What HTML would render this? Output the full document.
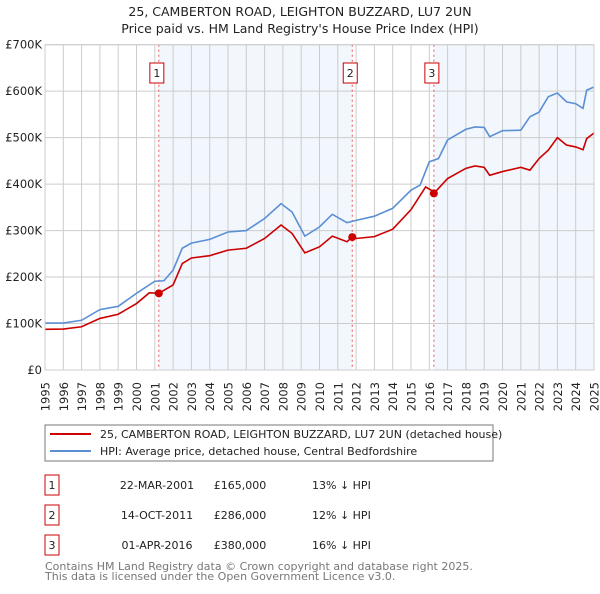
<!DOCTYPE html>
<html><head><meta charset="utf-8">
<style>
body{margin:0;background:#fff;font-family:"DejaVu Sans","Liberation Sans",sans-serif;}
svg text{font-family:"DejaVu Sans","Liberation Sans",sans-serif;}
</style></head>
<body>
<svg id="c" width="600" height="590" xmlns="http://www.w3.org/2000/svg">
<text x="300" y="16" text-anchor="middle" font-size="12.5" fill="#222">25, CAMBERTON ROAD, LEIGHTON BUZZARD, LU7 2UN</text>
<text x="300" y="33" text-anchor="middle" font-size="12.5" fill="#222">Price paid vs. HM Land Registry's House Price Index (HPI)</text>
<g id="plot"></g>
<rect x="45" y="425" width="448" height="36" fill="#fff" stroke="#777"/>
<line x1="50" y1="434" x2="91" y2="434" stroke="#cc0000" stroke-width="2"/>
<text x="100" y="438" font-size="11" fill="#222">25, CAMBERTON ROAD, LEIGHTON BUZZARD, LU7 2UN (detached house)</text>
<line x1="50" y1="451" x2="91" y2="451" stroke="#5b8fd4" stroke-width="2"/>
<text x="100" y="455" font-size="11" fill="#222">HPI: Average price, detached house, Central Bedfordshire</text>
<g id="tbl" font-size="11" fill="#222"></g>
<text x="45" y="570" font-size="11" fill="#777">Contains HM Land Registry data © Crown copyright and database right 2025.</text>
<text x="45" y="580" font-size="11" fill="#777">This data is licensed under the Open Government Licence v3.0.</text>
</svg>
<script>
const hpiYears=[1995,1996,1997,1998,1999,2000,2001,2001.5,2002,2002.5,2003,2004,2005,2006,2007,2007.9,2008.5,2009.2,2010,2010.7,2011.5,2012,2013,2014,2015,2015.5,2016,2016.5,2017,2018,2018.5,2019,2019.3,2020,2021,2021.5,2022,2022.5,2023,2023.5,2024,2024.4,2024.6,2025];
const hpiValues=[101000,101000,107000,130000,137000,165000,191000,192000,215000,262000,273000,281000,297000,300000,326000,358000,340000,288000,308000,335000,317000,322000,331000,348000,387000,398000,448000,455000,495000,518000,523000,522000,502000,515000,516000,545000,555000,588000,596000,577000,573000,563000,602000,609000];
const ppYears=[1995,1996,1997,1998,1999,2000,2000.7,2001.22,2002,2002.5,2003,2004,2005,2006,2007,2007.9,2008.5,2009.2,2010,2010.7,2011.5,2011.79,2012,2013,2014,2015,2015.8,2016.1,2016.25,2017,2018,2018.5,2019,2019.3,2020,2021,2021.5,2022,2022.5,2023,2023.5,2024,2024.4,2024.6,2025];
const ppValues=[87500,88000,93000,111000,120000,143000,166000,165000,183000,229000,241000,246000,258000,262000,283000,312000,294000,252000,265000,288000,276000,286000,283000,287000,303000,345000,394000,387000,380000,412000,434000,439000,436000,419000,427000,436000,430000,455000,473000,500000,484000,480000,474000,498000,510000];
const saleLabels=["1","2","3"];
const saleYears=[2001.22,2011.79,2016.25];
const saleValues=[165000,286000,380000];
const saleDates=["22-MAR-2001","14-OCT-2011","01-APR-2016"];
const salePrices=["£165,000","£286,000","£380,000"];
const saleDiffs=["13% ↓ HPI","12% ↓ HPI","16% ↓ HPI"];
const yTicks=[0,100000,200000,300000,400000,500000,600000,700000];
const yTickLabels=["£0","£100K","£200K","£300K","£400K","£500K","£600K","£700K"];
const xTicks=[1995,1996,1997,1998,1999,2000,2001,2002,2003,2004,2005,2006,2007,2008,2009,2010,2011,2012,2013,2014,2015,2016,2017,2018,2019,2020,2021,2022,2023,2024,2025];

const L=45,R=594,T=44.7,B=370;
const x=v=>L+(v-1995)/30*(R-L);
const y=v=>B-v/700000*(B-T);
const NS="http://www.w3.org/2000/svg";
const g=document.getElementById('plot');
function mk(t,a,p){const e=document.createElementNS(NS,t);for(const k in a)e.setAttribute(k,a[k]);(p||g).appendChild(e);return e;}

let bg=mk('rect',{x:L,y:T,width:R-L,height:B-T,fill:'#fff'});


const shades=[[saleYears[0],saleYears[1]],[saleYears[2],2025]];
shades.forEach((s,i)=>{
  const r=mk('rect',{x:x(s[0]),y:T,width:x(s[1])-x(s[0]),height:B-T,fill:'#eef3fc',opacity:0.75});
  
  
});
xTicks.forEach(t=>{
  const l=mk('line',{x1:x(t),x2:x(t),y1:T,y2:B,stroke:'#cccccc','stroke-width':1});
  
  
  const tx=mk('text',{x:0,y:0,'text-anchor':'end','font-size':11.5,fill:'#222',transform:'translate('+(x(t)+4.5)+','+(B+12)+') rotate(-90)'});
  tx.textContent=t;
  
  
});
yTicks.forEach((t,i)=>{
  const l=mk('line',{x1:L,x2:R,y1:y(t),y2:y(t),stroke:'#cccccc','stroke-width':1});
  
  
  const tx=mk('text',{x:L-3,y:y(t)+4,'text-anchor':'end','font-size':11.5,fill:'#222'});
  tx.textContent=yTickLabels[i];
  
  
});
saleYears.forEach((s,i)=>{
  const l=mk('line',{x1:x(s),x2:x(s),y1:T,y2:B,stroke:'#ee5555','stroke-width':1,'stroke-dasharray':'2,3'});
  
  
  const b=mk('rect',{x:x(s)-9,y:63,width:14,height:20,fill:'#fff',stroke:'#cc0000'});
  
  
  const tx=mk('text',{x:x(s)-2,y:77,'text-anchor':'middle','font-size':11,fill:'#222'});
  tx.textContent=saleLabels[i];
  
  
});
const hp=mk('polyline',{points:hpiYears.map((v,i)=>x(v)+','+y(hpiValues[i])).join(' '),fill:'none',stroke:'#5b8fd4','stroke-width':1.6});


const pp=mk('polyline',{points:ppYears.map((v,i)=>x(v)+','+y(ppValues[i])).join(' '),fill:'none',stroke:'#cc0000','stroke-width':1.6});


saleYears.forEach((s,i)=>{
  const c=mk('circle',{cx:x(s),cy:y(saleValues[i]),r:4,fill:'#cc0000'});
  
  
});
const fr=mk('rect',{x:L,y:T,width:R-L,height:B-T,fill:'none',stroke:'#cccccc'});



const tb=document.getElementById('tbl');
saleLabels.forEach((s,i)=>{
  const yy=475+i*30;
  const b=mk('rect',{x:45,y:yy,width:14,height:20,fill:'#fff',stroke:'#cc0000'},tb);
  
  
  const vals=[[s,52,'middle'],[saleDates[i],157,'middle'],[salePrices[i],240,'middle'],[saleDiffs[i],312,'start']];
  vals.forEach((v,j)=>{
    const t=mk('text',{x:v[1],y:yy+14,'text-anchor':v[2]},tb);
    t.textContent=v[0];
    
    
  });
});
</script>
</body></html>
